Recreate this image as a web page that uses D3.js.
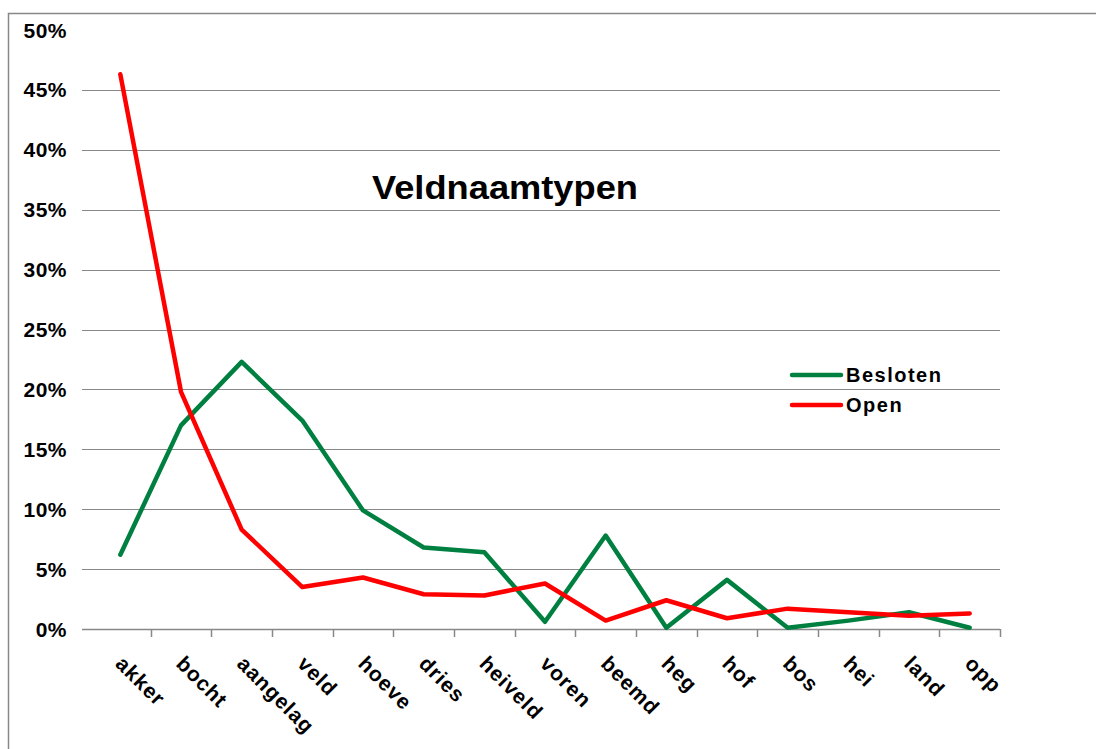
<!DOCTYPE html>
<html>
<head>
  <meta charset="utf-8">
  <script src="https://cdn.jsdelivr.net/npm/d3@7"></script>
  <style type="text/css">
    body { margin: 0; background: #fff; }
    svg text { font-family: Arial, "Liberation Sans", sans-serif; font-weight: bold; fill: #000; }
  </style>
</head>
<body>
  <div id="chart"></div>

  <script type="text/javascript">
    var categories = ['akker', 'bocht', 'aangelag', 'veld', 'hoeve', 'dries', 'heiveld',
      'voren', 'beemd', 'heg', 'hof', 'bos', 'hei', 'land', 'opp'];
    var besloten = [6.2, 17.0, 22.3, 17.4, 9.9, 6.8, 6.4, 0.6, 7.8, 0.1, 4.1, 0.1, 0.7, 1.4, 0.1];
    var open = [46.3, 19.8, 8.3, 3.5, 4.3, 2.9, 2.8, 3.8, 0.7, 2.4, 0.9, 1.7, 1.4, 1.1, 1.3];
    var yTicks = [0, 5, 10, 15, 20, 25, 30, 35, 40, 45, 50];
    var seriesNames = ['Besloten', 'Open'];
    var seriesColors = ['#008040', '#ff0000'];

    var width = 1096, height = 749;
    var plotLeft = 90, plotRight = 1000, plotTop = 30, plotBottom = 629;

    var svg = d3.select('#chart').append('svg')
      .attr('width', width)
      .attr('height', height);

    // outer chart border
    svg.append('path')
      .attr('d', 'M8.5,' + height + 'V13.5H' + width)
      .attr('fill', 'none')
      .attr('stroke', '#888')
      .attr('stroke-width', 1.5);

    var x = d3.scaleBand().domain(categories).range([plotLeft, plotRight]).padding(0);
    var y = d3.scaleLinear().domain([0, 50]).range([plotBottom, plotTop]);
    var cx = function(c) { return x(c) + x.bandwidth() / 2; };

    // gridlines (no line at the top value)
    svg.append('g').selectAll('line')
      .data(yTicks.filter(function(t) { return t > 0 && t < 50; }))
      .enter().append('line')
      .attr('x1', plotLeft - 8).attr('x2', plotRight)
      .attr('y1', function(d) { return Math.round(y(d)) + 0.5; })
      .attr('y2', function(d) { return Math.round(y(d)) + 0.5; })
      .attr('stroke', '#888').attr('stroke-width', 1);

    // y labels
    svg.append('g').selectAll('text')
      .data(yTicks)
      .enter().append('text')
      .attr('x', 67)
      .attr('y', function(d) { return y(d); })
      .attr('dy', '0.36em')
      .style('text-anchor', 'end')
      .style('font-size', '21px')
      .style('letter-spacing', '0.5px')
      .text(function(d) { return d + '%'; });

    // x axis line + ticks
    svg.append('line')
      .attr('x1', plotLeft - 8).attr('x2', plotRight)
      .attr('y1', plotBottom + 0.5).attr('y2', plotBottom + 0.5)
      .attr('stroke', '#888').attr('stroke-width', 1.5);

    svg.append('g').selectAll('line')
      .data(categories)
      .enter().append('line')
      .attr('x1', function(d) { return Math.round(x(d) + x.bandwidth()) + 0.5; })
      .attr('x2', function(d) { return Math.round(x(d) + x.bandwidth()) + 0.5; })
      .attr('y1', plotBottom).attr('y2', plotBottom + 8)
      .attr('stroke', '#888').attr('stroke-width', 1.5);

    // x labels, rotated
    svg.append('g').selectAll('text')
      .data(categories)
      .enter().append('text')
      .attr('transform', function(d) {
        return 'translate(' + (cx(d) - 6) + ',665) rotate(45)';
      })
      .style('font-size', '21px')
      .style('letter-spacing', '1px')
      .text(function(d) { return d; });

    // lines
    var line = d3.line()
      .x(function(d, i) { return cx(categories[i]); })
      .y(function(d) { return y(d); });

    [besloten, open].forEach(function(vals, i) {
      svg.append('path')
        .datum(vals)
        .attr('d', line)
        .attr('fill', 'none')
        .attr('stroke', seriesColors[i])
        .attr('stroke-width', 4.5)
        .attr('stroke-linejoin', 'round')
        .attr('stroke-linecap', 'round');
    });

    // title
    svg.append('text')
      .attr('x', 372)
      .attr('y', 199)
      .attr('textLength', 266)
      .attr('lengthAdjust', 'spacingAndGlyphs')
      .style('font-size', '33px')
      .text('Veldnaamtypen');

    // legend
    var legend = svg.append('g').selectAll('g')
      .data(seriesNames)
      .enter().append('g')
      .attr('transform', function(d, i) { return 'translate(792,' + (375 + i * 30) + ')'; });

    legend.append('line')
      .attr('x1', 0).attr('x2', 49)
      .attr('stroke', function(d, i) { return seriesColors[i]; })
      .attr('stroke-width', 4.5)
      .attr('stroke-linecap', 'round');

    legend.append('text')
      .attr('x', 54)
      .attr('dy', '0.36em')
      .style('font-size', '20px')
      .style('letter-spacing', '1.5px')
      .text(function(d) { return d; });
  </script>
</body>
</html>
